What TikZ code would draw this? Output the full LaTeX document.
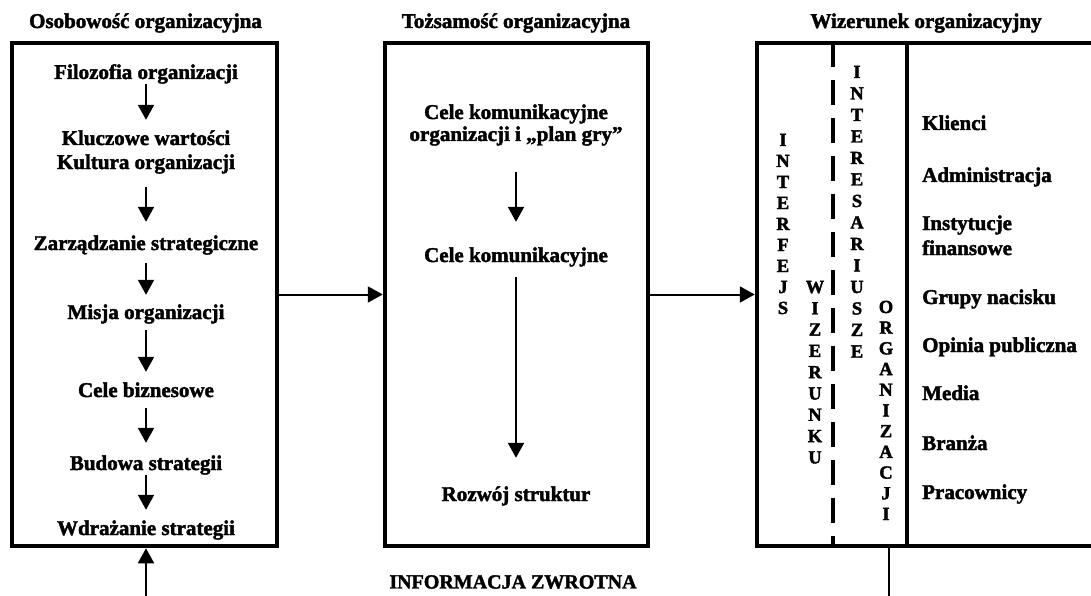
\documentclass[tikz,border=0pt]{standalone}
\usepackage{fontspec}
\setmainfont{Liberation Serif}[BoldFont={Liberation Serif Bold},BoldFeatures={FakeBold=2}]
\usetikzlibrary{arrows.meta}

\begin{document}
\begin{tikzpicture}[x=1pt,y=-1pt,
  panel/.style={draw,line width=4.5pt,inner sep=0pt,outer sep=2.25pt,minimum height=503pt},
  border/.style={line width=4pt},
  flow/.style={line width=2pt,-{Triangle[length=15pt,width=16pt]}},
  item/.style={font=\fontsize{21}{24}\selectfont\bfseries,inner sep=0pt,
               text height=15pt,text depth=5pt,anchor=base},
  title/.style={font=\fontsize{21}{24}\selectfont\bfseries,inner sep=0pt},
  letter/.style={font=\fontsize{18.5}{20}\selectfont\bfseries,inner sep=0pt,anchor=base}
]
\useasboundingbox (0,0) rectangle (1091,596);
\clip (0,0) rectangle (1091,596);

% column headings
\node[title] (h1) at (145.5,23) {Osobowość organizacyjna};
\node[title] (h2) at (516,23) {Tożsamość organizacyjna};
\node[title] (h3) at (926,23) {Wizerunek organizacyjny};

% the three panels
\node[panel,minimum width=265pt] (osob) at (144.5,294.5) {};
\node[panel,minimum width=263pt] (tozs) at (516.5,294.5) {};
\node[panel,minimum width=400pt] (wiz) at (957,294.5) {};

% separators inside the image panel
\draw[border,dash pattern=on 25pt off 13pt] (833,42) -- (833,546);
\draw[border] (907,43) -- (907,546);

% organisational personality chain
\node[item] (fil)  at (146,79)  {Filozofia organizacji};
\node[item] (klu1) at (146,145) {Kluczowe wartości};
\node[item] (klu2) at (146,169) {Kultura organizacji};
\node[item] (zar)  at (146,250) {Zarządzanie strategiczne};
\node[item] (mis)  at (146,319) {Misja organizacji};
\node[item] (cel)  at (146,397) {Cele biznesowe};
\node[item] (bud)  at (146,470) {Budowa strategii};
\node[item] (wdr)  at (146,535) {Wdrażanie strategii};

\draw[flow,shorten >=10pt] (fil.south) -- (klu1.north);
\draw[flow,shorten <=13pt,shorten >=13pt] (klu2.south) -- (zar.north);
\draw[flow,shorten <=8pt,shorten >=9pt] (zar.south) -- (mis.north);
\draw[flow,shorten <=6pt,shorten >=10pt] (mis.south) -- (cel.north);
\draw[flow,shorten <=6pt,shorten >=12pt] (cel.south) -- (bud.north);
\draw[flow,shorten >=10pt] (bud.south) -- (wdr.north);

% organisational identity chain
\node[item] (ck1) at (516,119) {Cele komunikacyjne};
\node[item] (ck2) at (516,141) {organizacji i „plan gry”};
\node[item] (ck3) at (516,262) {Cele komunikacyjne};
\node[item] (roz) at (516,501) {Rozwój struktur};

\draw[flow,shorten <=26pt,shorten >=25pt] (ck2.south) -- (ck3.north);
\draw[flow,shorten <=10pt,shorten >=28pt] (ck3.south) -- (roz.north);

% links between panels
\draw[flow] (osob.east) -- (tozs.west);
\draw[flow] (tozs.east) -- (wiz.west);

% vertical captions in the image panel
\foreach \ch [count=\i] in {I,N,T,E,R,F,E,J,S}
  \node[letter] (ifc\i) at (783,{146+21*(\i-1)}) {\ch};
\foreach \ch [count=\i] in {W,I,Z,E,R,U,N,K,U}
  \node[letter] (wzr\i) at (815,{293+21.3*(\i-1)}) {\ch};
\foreach \ch [count=\i] in {I,N,T,E,R,E,S,A,R,I,U,S,Z,E}
  \node[letter] (int\i) at (857,{78+21.5*(\i-1)}) {\ch};
\foreach \ch [count=\i] in {O,R,G,A,N,I,Z,A,C,J,I}
  \node[letter] (org\i) at (886,{313+20.7*(\i-1)}) {\ch};

% stakeholders
\node[item,anchor=base west] (s1) at (922,130) {Klienci};
\node[item,anchor=base west] (s2) at (922,182) {Administracja};
\node[item,anchor=base west] (s3) at (922,230) {Instytucje};
\node[item,anchor=base west] (s4) at (922,255) {finansowe};
\node[item,anchor=base west] (s5) at (922,304) {Grupy nacisku};
\node[item,anchor=base west] (s6) at (922,352) {Opinia publiczna};
\node[item,anchor=base west] (s7) at (922,400) {Media};
\node[item,anchor=base west] (s8) at (922,450) {Branża};
\node[item,anchor=base west] (s9) at (922,499) {Pracownicy};

% feedback loop
\coordinate (fbL) at (146,600);
\coordinate (fbR) at (889,600);
\draw[flow] (fbL) -- (fbL |- osob.south);
\draw[line width=2pt] (fbR |- wiz.south) -- (fbR);
\node[title,font=\fontsize{20}{24}\selectfont\bfseries] (fb) at (513,582) {INFORMACJA ZWROTNA};
\end{tikzpicture}
\end{document}
